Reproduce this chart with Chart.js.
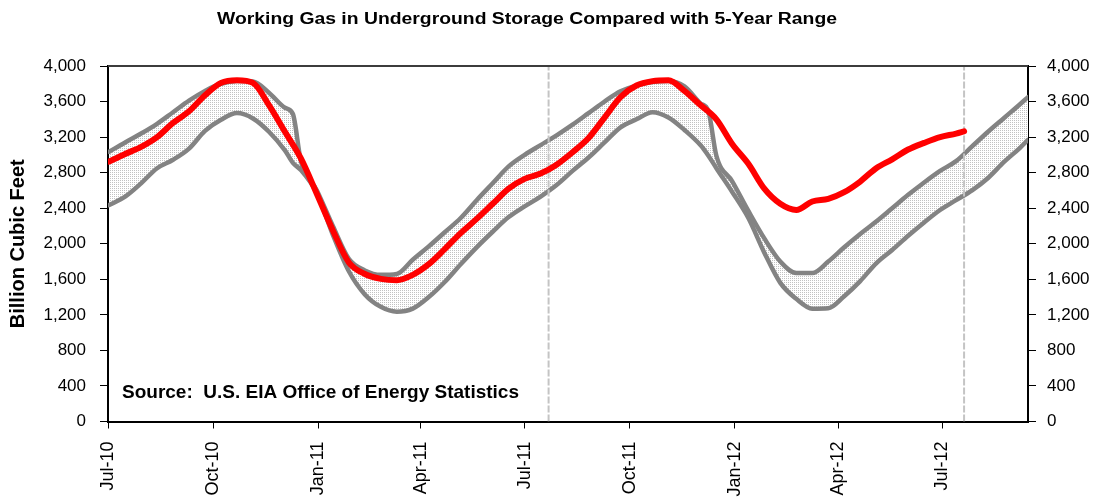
<!DOCTYPE html>
<html><head><meta charset="utf-8">
<script src="https://cdn.jsdelivr.net/npm/chart.js@4.4.1/dist/chart.umd.min.js"></script>
<style>html,body{margin:0;padding:0;background:#fff;overflow:hidden}canvas{display:block}</style>
</head><body>
<canvas id="c" width="1097" height="497"></canvas>
<script>
// ---- text ----
const chartTitle = 'Working Gas in Underground Storage Compared with 5-Year Range';
const yAxisTitle = 'Billion Cubic Feet';
const sourceNote = 'Source:  U.S. EIA Office of Energy Statistics';

// ---- x axis: days since 1 Jul 2010 ----
const tickDays   = [0, 92, 184, 274, 365, 457, 549, 640, 731];
const tickLabels = ['Jul-10','Oct-10','Jan-11','Apr-11','Jul-11','Oct-11','Jan-12','Apr-12','Jul-12'];
const yTicks = [0, 400, 800, 1200, 1600, 2000, 2400, 2800, 3200, 3600, 4000];

// ---- 5-year range (Bcf) ----
const bandDays = [1,15,29,43,57,71,85,99,113,127,141,155,162,169,183,197,211,225,239,253,267,281,295,309,323,337,351,365,379,393,407,421,435,449,463,477,491,505,519,526,533,547,561,575,589,603,617,631,645,659,673,687,701,715,729,743,757,771,785,799,806];
const rangeMax = [3035,3140,3240,3350,3480,3610,3720,3800,3830,3825,3700,3530,
  3460,
  2930,2600,2200,1830,1700,1650,1660,1820,1970,2130,2290,2490,2680,2870,3000,3110,3220,3340,3470,3600,3715,3780,3820,3830,3770,3580,
  3490,
  2990,2700,2370,2060,1800,1670,1670,1800,1960,2110,2250,2400,2550,2690,2820,2930,3095,3260,3415,3570,
  3650];
const rangeMin = [2435,2530,2680,2850,2945,3070,3270,3395,3470,3410,3260,3050,
  2910,
  2830,2570,2100,1690,1430,1290,1235,1270,1400,1570,1770,1960,2135,2300,2420,2530,2660,2820,2970,3140,3310,3400,3480,3420,3280,3110,
  2990,
  2850,2580,2290,1900,1560,1380,1270,1275,1410,1580,1780,1930,2090,2240,2380,2490,2600,2740,2920,3080,
  3170];

// ---- actual working gas (Bcf) ----
const actualDays = [1,15,29,43,57,71,85,99,113,127,141,155,169,183,197,211,225,239,253,267,281,295,309,323,337,351,365,379,393,407,421,435,449,463,477,491,505,519,533,547,561,575,589,603,617,631,645,659,673,687,701,715,729,743,750];
const actualBcf = [2925,3010,3090,3200,3360,3490,3670,3810,3840,3810,
  3560,3260,2960,2560,2150,1790,1660,1605,1590,1650,
  1770,1940,2120,2280,2450,2620,2730,2790,2890,3030,
  3190,3420,3650,3780,3830,3840,3720,3560,3400,3120,
  2900,2620,2450,2380,2475,2505,2580,2700,2850,2950,
  3060,3135,3200,3240,3265];

// ---- reference weeks (vertical markers) ----
const markerDays = [386, 750];

const pts = (xs, ys) => xs.map((x, i) => ({ x, y: ys[i] }));

const canvas = document.getElementById('c');
const ctx = canvas.getContext('2d');

function dotPattern() {
  const c = document.createElement('canvas'); c.width = 2; c.height = 2;
  const g = c.getContext('2d');
  g.fillStyle = '#ffffff'; g.fillRect(0, 0, 2, 2);
  g.fillStyle = '#c2c2c2'; g.fillRect(0, 0, 1, 1);
  return ctx.createPattern(c, 'repeat');
}

Chart.defaults.font.family = '"Liberation Sans", Arial, sans-serif';
Chart.defaults.color = '#000';

function drawFitted(c, text, font, x, y, width, align) {
  c.save();
  c.font = font;
  c.textBaseline = 'middle';
  c.textAlign = 'left';
  const w = c.measureText(text).width;
  const sx = width / w;
  const left = align === 'center' ? x - width / 2 : x;
  c.translate(left, y);
  c.scale(sx, 1);
  c.fillStyle = '#000';
  c.fillText(text, 0, 0);
  c.restore();
}

const decor = {
  id: 'decor',
  afterDatasetsDraw(chart) {
    const { ctx: c, chartArea: a } = chart;
    c.save();
    c.strokeStyle = '#3c3c3c'; c.lineWidth = 2;
    c.beginPath(); c.moveTo(a.left, a.top); c.lineTo(a.right, a.top); c.stroke();
    c.restore();
    c.save();
    c.font = 'bold 19px "Liberation Sans", Arial, sans-serif';
    c.textBaseline = 'middle'; c.fillStyle = '#000';
    c.fillText(sourceNote, a.left + 14, 393);
    c.restore();
  },
  afterDraw(chart) {
    drawFitted(chart.ctx, chartTitle, 'bold 16px "Liberation Sans", Arial, sans-serif', 527, 20, 620, 'center');
  }
};

const yAxisCommon = {
  min: 0, max: 4000,
  afterBuildTicks: s => { s.ticks = yTicks.map(v => ({ value: v })); },
  ticks: { font: { size: 17 }, color: '#000', callback: v => v.toLocaleString('en-US') },
  grid: { drawOnChartArea: false, drawTicks: true, tickLength: 8, color: '#000', lineWidth: 1 },
  border: { display: true, color: '#000', width: 2 }
};

new Chart(ctx, {
  type: 'line',
  data: {
    datasets: [
      { label: '5-yr max', data: pts(bandDays, rangeMax), borderColor: '#838383', borderWidth: 4.5,
        backgroundColor: dotPattern(), fill: '+1', pointRadius: 0, cubicInterpolationMode: 'monotone', order: 2,
        borderJoinStyle: 'round', borderCapStyle: 'round' },
      { label: '5-yr min', data: pts(bandDays, rangeMin), borderColor: '#838383', borderWidth: 4.5,
        fill: false, pointRadius: 0, cubicInterpolationMode: 'monotone', order: 3,
        borderJoinStyle: 'round', borderCapStyle: 'round' },
      { label: 'Working gas', data: pts(actualDays, actualBcf), borderColor: '#ff0000', borderWidth: 6,
        fill: false, pointRadius: 0, cubicInterpolationMode: 'monotone', order: 0,
        borderJoinStyle: 'round', borderCapStyle: 'round' },
      ...markerDays.map(d => ({ label: 'marker', data: [{ x: d, y: 0 }, { x: d, y: 4000 }],
        borderColor: '#c4c4c4', borderWidth: 2, borderDash: [7, 2], pointRadius: 0, fill: false, order: 1 }))
    ]
  },
  options: {
    responsive: false, animation: false, events: [],
    layout: { padding: { top: 66, left: 0, right: 0, bottom: 0 } },
    plugins: {
      legend: { display: false }, tooltip: { enabled: false }, title: { display: false },
      filler: { drawTime: 'beforeDatasetsDraw' }
    },
    scales: {
      x: {
        type: 'linear', min: 0, max: 806,
        afterBuildTicks: s => { s.ticks = tickDays.map(v => ({ value: v })); },
        afterFit: s => { s.height = 75.5; },
        ticks: { autoSkip: false, maxRotation: 90, minRotation: 90, padding: 13, font: { size: 18 }, color: '#000',
          callback: v => tickLabels[tickDays.indexOf(v)] },
        grid: { drawOnChartArea: false, drawTicks: true, tickLength: 7, color: '#000', lineWidth: 1 },
        border: { display: true, color: '#000', width: 2 }
      },
      y: Object.assign({}, yAxisCommon, {
        position: 'left',
        afterFit: s => { s.width = 108; },
        ticks: Object.assign({}, yAxisCommon.ticks, { padding: 14 }),
        title: { display: true, text: yAxisTitle, font: { size: 20, weight: 'bold' }, color: '#000', padding: { top: 6, bottom: 0 } }
      }),
      y2: Object.assign({}, yAxisCommon, {
        position: 'right',
        afterFit: s => { s.width = 69; },
        ticks: Object.assign({}, yAxisCommon.ticks, { padding: 11 })
      })
    }
  },
  plugins: [decor]
});
</script>
</body></html>
